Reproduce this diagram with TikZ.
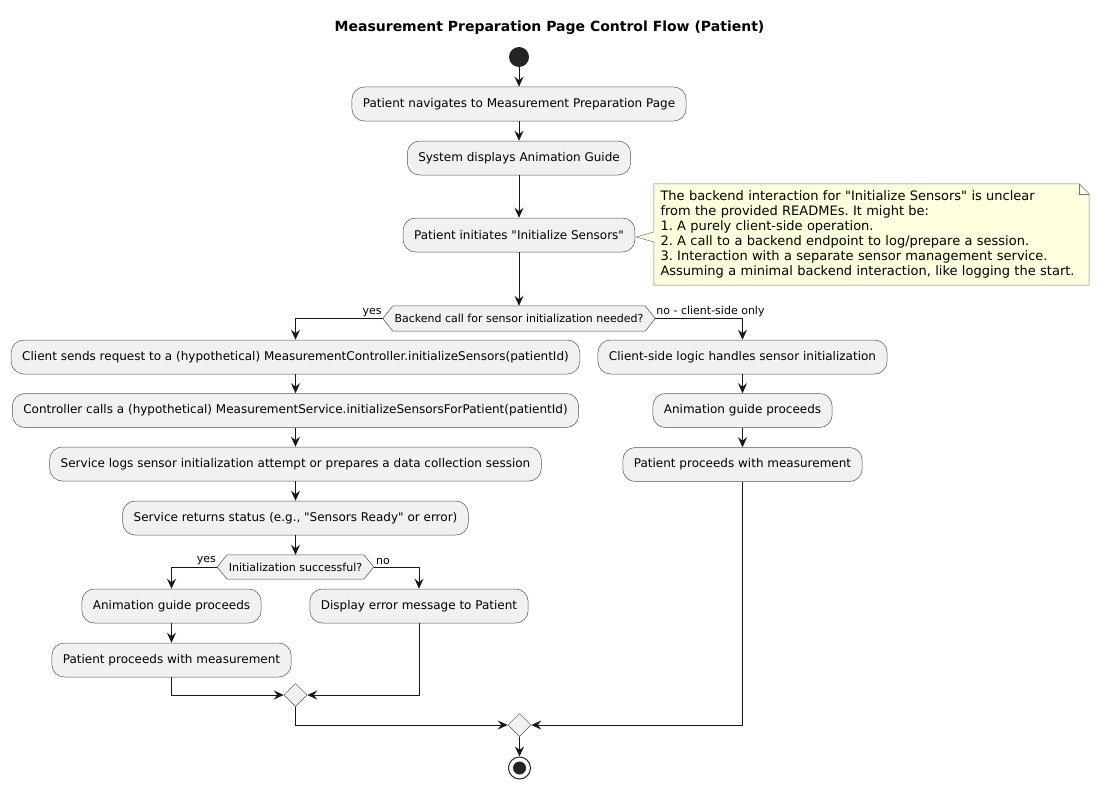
\documentclass[tikz,border=0pt]{standalone}
\usepackage{fontspec}
\setmainfont{DejaVu Sans}[Ligatures=TeXOff]
\usetikzlibrary{arrows.meta,shapes.geometric,backgrounds}
\definecolor{boxfill}{HTML}{F1F1F1}
\definecolor{ink}{HTML}{181818}
\definecolor{notefill}{HTML}{FEFFDD}
\frenchspacing
\begin{document}
\begin{tikzpicture}[x=1pt,y=-1pt,
 act/.style={rectangle, rounded corners=12.5pt, fill=boxfill, draw=ink!75, line width=0.5pt,
   font=\fontsize{12}{14}\selectfont, minimum height=34pt, inner xsep=11pt, inner ysep=0pt},
 dec/.style={rectangle, font=\fontsize{11}{13}\selectfont, minimum height=25pt, inner xsep=1.5pt, inner ysep=0pt},
 decshape/.style={fill=boxfill, draw=ink!75, line width=0.5pt},
 lbl/.style={font=\fontsize{11}{13}\selectfont, inner sep=1pt},
 flow/.style={draw=ink, line width=1pt, -{Stealth[length=10pt,width=9pt,inset=3.5pt]}},
 merge/.style={diamond, fill=boxfill, draw=ink!75, line width=0.5pt, minimum width=23pt, minimum height=23pt, inner sep=0pt},
 notestyle/.style={fill=notefill, draw=ink!60, line width=0.5pt},
]
\useasboundingbox (0,0) rectangle (1099,789);

\node[font=\bfseries\fontsize{14}{16}\selectfont] (title) at (549.5,28) {Measurement Preparation Page Control Flow (Patient)};

\node[circle, fill=ink!95, minimum size=20pt, inner sep=0pt] (start) at (519,57) {};
\node[act] (b1) at (519,104) {Patient navigates to Measurement Preparation Page};
\node[act] (b2) at (519,158) {System displays Animation Guide};
\node[act] (b3) at (519,235) {Patient initiates "Initialize Sensors"};

\node[text width=422pt, align=left, inner xsep=6.5pt, inner ysep=0pt, minimum height=101pt,
      font=\fontsize{13}{15}\selectfont] (note) at (871.5,234.5)
 {The backend interaction for "Initialize Sensors" is unclear\\
  from the provided READMEs. It might be:\\
  1. A purely client-side operation.\\
  2. A call to a backend endpoint to log/prepare a session.\\
  3. Interaction with a separate sensor management service.\\
  Assuming a minimal backend interaction, like logging the start.};

\node[dec] (d1) at (519,318.5) {Backend call for sensor initialization needed?};
\coordinate (d1w) at ([xshift=-10pt]d1.west);
\coordinate (d1e) at ([xshift=10pt]d1.east);

\node[act] (b4) at (295.5,357) {Client sends request to a (hypothetical) MeasurementController.initializeSensors(patientId)};
\node[act] (b5) at (295.5,410.5) {Controller calls a (hypothetical) MeasurementService.initializeSensorsForPatient(patientId)};
\node[act] (b6) at (295.5,464) {Service logs sensor initialization attempt or prepares a data collection session};
\node[act] (b7) at (295.5,518) {Service returns status (e.g., "Sensors Ready" or error)};

\node[dec, minimum height=24pt] (d2) at (295.5,567) {Initialization successful?};
\coordinate (d2w) at ([xshift=-10pt]d2.west);
\coordinate (d2e) at ([xshift=10pt]d2.east);

\node[act] (b8) at (171.5,606) {Animation guide proceeds};
\node[act] (b9) at (171.5,660) {Patient proceeds with measurement};
\node[act] (b10) at (419,606) {Display error message to Patient};
\node[merge] (m1) at (295.5,695) {};

\node[act] (b11) at (742.5,357) {Client-side logic handles sensor initialization};
\node[act] (b12) at (742.5,410.5) {Animation guide proceeds};
\node[act] (b13) at (742.5,464.5) {Patient proceeds with measurement};

\node[merge] (m2) at (519.5,725) {};
\node[circle, draw=ink!95, line width=1pt, fill=white, minimum size=22pt, inner sep=0pt] (end) at (519.5,768) {};
\node[circle, fill=ink!95, minimum size=13pt, inner sep=0pt] (endin) at (end.center) {};

\begin{scope}[on background layer]
 \draw[notestyle] (note.north west) -- ([xshift=-10pt]note.north east) -- ([yshift=-10pt]note.north east)
   -- (note.south east) -- (note.south west) -- ([yshift=-7.5pt]note.west)
   -- ([xshift=1pt,yshift=-2pt]b3.east) -- ([yshift=2.5pt]note.west) -- cycle;
 \draw[draw=ink!60, line width=0.5pt] ([xshift=-10pt]note.north east) -- ([xshift=-10pt,yshift=-10pt]note.north east) -- ([yshift=-10pt]note.north east);
 \draw[decshape] (d1w) -- (d1.north west) -- (d1.north east) -- (d1e) -- (d1.south east) -- (d1.south west) -- cycle;
 \draw[decshape] (d2w) -- (d2.north west) -- (d2.north east) -- (d2e) -- (d2.south east) -- (d2.south west) -- cycle;
\end{scope}

\draw[flow] (start) -- (b1);
\draw[flow] (b1) -- (b2);
\draw[flow] (b2) -- (b3);
\draw[flow] (b3) -- (d1.north);

\draw[flow] (d1w) -| (b4.north);
\node[lbl, anchor=south east] (ly1) at ([yshift=1pt]d1w) {yes};
\draw[flow] (d1e) -| (b11.north);
\node[lbl, anchor=south west] (ln1) at ([yshift=1pt]d1e) {no - client-side only};

\draw[flow] (b4) -- (b5);
\draw[flow] (b5) -- (b6);
\draw[flow] (b6) -- (b7);
\draw[flow] (b7) -- (d2.north);

\draw[flow] (d2w) -| (b8.north);
\node[lbl, anchor=south east] (ly2) at ([yshift=1pt]d2w) {yes};
\draw[flow] (d2e) -| (b10.north);
\node[lbl, anchor=south west] (ln2) at ([xshift=1pt,yshift=1pt]d2e) {no};

\draw[flow] (b8) -- (b9);
\draw[flow] (b9.south) |- (m1.west);
\draw[flow] (b10.south) |- (m1.east);
\draw[flow] (m1.south) |- (m2.west);

\draw[flow] (b11) -- (b12);
\draw[flow] (b12) -- (b13);
\draw[flow] (b13.south) |- (m2.east);

\draw[flow] (m2.south) -- (end.north);
\end{tikzpicture}
\end{document}
